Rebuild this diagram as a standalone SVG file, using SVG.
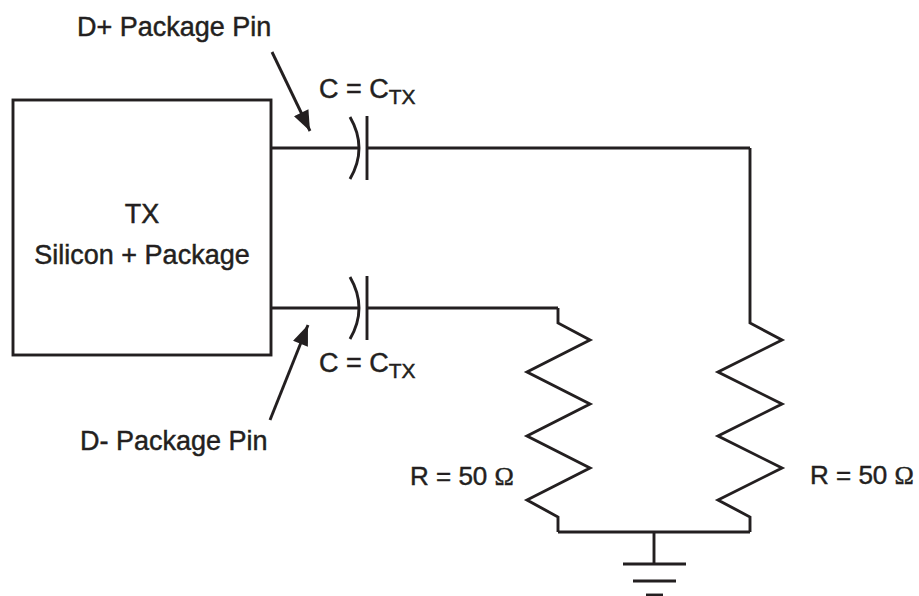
<svg xmlns="http://www.w3.org/2000/svg" width="919" height="596" viewBox="0 0 919 596">
<style>
.w{fill:none;stroke:#231f20;stroke-width:2.9;stroke-linejoin:miter;stroke-linecap:butt}
.t{font-family:"Liberation Sans",Arial,Helvetica,sans-serif;font-size:27px;fill:#231f20;stroke:#231f20;stroke-width:0.45}
.r{font-size:26px}
.s{font-size:21px}
.om{font-family:"Liberation Serif","Times New Roman",serif}
</style>
<defs>
<marker id="ah" markerUnits="userSpaceOnUse" markerWidth="22" markerHeight="16" refX="19" refY="7.5" orient="auto" viewBox="0 0 20 15">
<path d="M0,0 L19,7.5 L0,15 z" fill="#231f20"/>
</marker>
</defs>
<rect width="919" height="596" fill="#ffffff"/>
<g id="tx">
<rect class="w" x="13" y="100" width="258" height="255"/>
<text class="t" x="142" y="223" text-anchor="middle">TX</text>
<text class="t" x="142" y="264" text-anchor="middle">Silicon + Package</text>
</g>
<g id="cap-top">
<path class="w" d="M350,117 Q368,148 350,179"/>
<line class="w" x1="367" y1="116" x2="367" y2="180"/>
<text class="t" x="319" y="98">C = C<tspan class="s" dy="6">TX</tspan></text>
</g>
<g id="cap-bottom">
<path class="w" d="M350,277 Q368,308 350,339"/>
<line class="w" x1="367" y1="276" x2="367" y2="340"/>
<text class="t" x="319" y="372">C = C<tspan class="s" dy="6">TX</tspan></text>
</g>
<g id="res-left">
<polyline class="w" points="558,308 558,323 590,340 527,372 590,404 527,436 590,468 527,500 558,517 558,532"/>
<text class="t r" x="410" y="485">R = 50 <tspan class="om">Ω</tspan></text>
</g>
<g id="res-right">
<polyline class="w" points="750,148 750,323 782,340 718,372 782,404 718,436 782,468 718,500 750,517 750,532"/>
<text class="t r" x="810" y="484">R = 50 <tspan class="om">Ω</tspan></text>
</g>
<g id="ground">
<line class="w" x1="654" y1="532" x2="654" y2="564"/>
<line class="w" x1="623" y1="564" x2="686" y2="564"/>
<line class="w" x1="633" y1="581" x2="676" y2="581"/>
<line class="w" x1="646" y1="595" x2="663" y2="595"/>
</g>
<g id="labels">
<text class="t" x="77" y="36">D+ Package Pin</text>
<text class="t" x="80" y="450">D- Package Pin</text>
</g>
<g id="connectors">
<polyline class="w" points="271,148 359,148"/>
<polyline class="w" points="367,148 750,148"/>
<polyline class="w" points="271,308 359,308"/>
<polyline class="w" points="367,308 558,308"/>
<polyline class="w" points="558,532 750,532"/>
<line class="w" x1="272" y1="52" x2="310" y2="131" marker-end="url(#ah)"/>
<line class="w" x1="270" y1="420" x2="308" y2="325" marker-end="url(#ah)"/>
</g>
</svg>
